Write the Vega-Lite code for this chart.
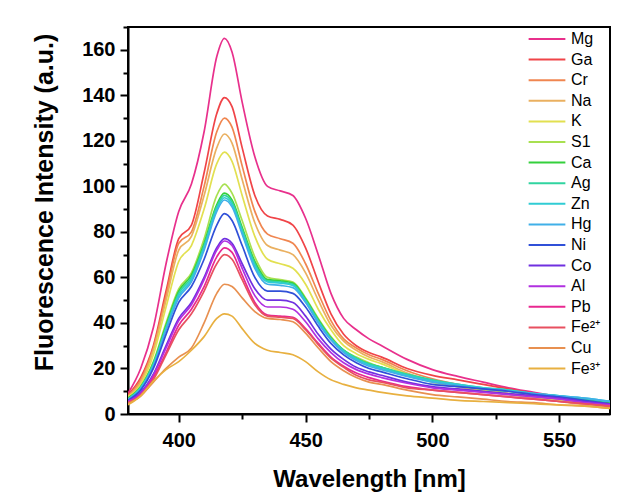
{
  "$schema": "https://vega.github.io/schema/vega-lite/v6.json",
  "width": 482,
  "height": 387,
  "autosize": {"type": "none"},
  "padding": {"left": 128, "top": 27, "right": 22, "bottom": 85},
  "background": "white",
  "config": {"font": "Liberation Sans", "view": {"stroke": "black", "strokeWidth": 2}},
  "datasets": {
    "spectra": [
      {"ion":"Mg","nm":380,"I":9},{"ion":"Mg","nm":385,"I":20},{"ion":"Mg","nm":390,"I":38},{"ion":"Mg","nm":395,"I":66},{"ion":"Mg","nm":400,"I":89},{"ion":"Mg","nm":405,"I":101},{"ion":"Mg","nm":410,"I":124},{"ion":"Mg","nm":415,"I":157},{"ion":"Mg","nm":418,"I":165},{"ion":"Mg","nm":421,"I":159},{"ion":"Mg","nm":425,"I":137},{"ion":"Mg","nm":430,"I":113},{"ion":"Mg","nm":435,"I":100},{"ion":"Mg","nm":440,"I":98},{"ion":"Mg","nm":445,"I":96},{"ion":"Mg","nm":450,"I":86},{"ion":"Mg","nm":455,"I":70},{"ion":"Mg","nm":460,"I":53},{"ion":"Mg","nm":465,"I":42},{"ion":"Mg","nm":470,"I":37},{"ion":"Mg","nm":475,"I":33},{"ion":"Mg","nm":480,"I":30},{"ion":"Mg","nm":490,"I":24},{"ion":"Mg","nm":500,"I":19.5},{"ion":"Mg","nm":510,"I":16.5},{"ion":"Mg","nm":520,"I":14},{"ion":"Mg","nm":530,"I":11.5},{"ion":"Mg","nm":540,"I":9.5},{"ion":"Mg","nm":550,"I":7.5},{"ion":"Mg","nm":560,"I":5.5},{"ion":"Mg","nm":570,"I":4},
      {"ion":"Ga","nm":380,"I":8.5},{"ion":"Ga","nm":385,"I":16},{"ion":"Ga","nm":390,"I":30},{"ion":"Ga","nm":395,"I":54},{"ion":"Ga","nm":400,"I":77},{"ion":"Ga","nm":405,"I":83},{"ion":"Ga","nm":410,"I":106},{"ion":"Ga","nm":415,"I":132},{"ion":"Ga","nm":418,"I":139},{"ion":"Ga","nm":421,"I":135},{"ion":"Ga","nm":425,"I":117},{"ion":"Ga","nm":430,"I":96},{"ion":"Ga","nm":435,"I":87},{"ion":"Ga","nm":440,"I":85.5},{"ion":"Ga","nm":445,"I":83},{"ion":"Ga","nm":450,"I":73},{"ion":"Ga","nm":455,"I":58},{"ion":"Ga","nm":460,"I":44},{"ion":"Ga","nm":465,"I":35},{"ion":"Ga","nm":470,"I":30},{"ion":"Ga","nm":475,"I":27},{"ion":"Ga","nm":480,"I":25},{"ion":"Ga","nm":490,"I":20},{"ion":"Ga","nm":500,"I":17},{"ion":"Ga","nm":510,"I":15},{"ion":"Ga","nm":520,"I":13},{"ion":"Ga","nm":530,"I":11},{"ion":"Ga","nm":540,"I":9},{"ion":"Ga","nm":550,"I":7},{"ion":"Ga","nm":560,"I":5},{"ion":"Ga","nm":570,"I":3.5},
      {"ion":"Cr","nm":380,"I":8},{"ion":"Cr","nm":385,"I":15},{"ion":"Cr","nm":390,"I":29},{"ion":"Cr","nm":395,"I":52},{"ion":"Cr","nm":400,"I":75},{"ion":"Cr","nm":405,"I":80},{"ion":"Cr","nm":410,"I":100},{"ion":"Cr","nm":415,"I":124},{"ion":"Cr","nm":418,"I":130},{"ion":"Cr","nm":421,"I":126},{"ion":"Cr","nm":425,"I":109},{"ion":"Cr","nm":430,"I":89},{"ion":"Cr","nm":435,"I":79},{"ion":"Cr","nm":440,"I":77},{"ion":"Cr","nm":445,"I":75},{"ion":"Cr","nm":450,"I":66},{"ion":"Cr","nm":455,"I":53},{"ion":"Cr","nm":460,"I":41},{"ion":"Cr","nm":465,"I":33},{"ion":"Cr","nm":470,"I":29},{"ion":"Cr","nm":475,"I":26},{"ion":"Cr","nm":480,"I":24},{"ion":"Cr","nm":490,"I":19},{"ion":"Cr","nm":500,"I":15.5},{"ion":"Cr","nm":510,"I":13},{"ion":"Cr","nm":520,"I":11},{"ion":"Cr","nm":530,"I":9},{"ion":"Cr","nm":540,"I":7.5},{"ion":"Cr","nm":550,"I":6},{"ion":"Cr","nm":560,"I":4.5},{"ion":"Cr","nm":570,"I":3},
      {"ion":"Na","nm":380,"I":7.5},{"ion":"Na","nm":385,"I":14},{"ion":"Na","nm":390,"I":28},{"ion":"Na","nm":395,"I":50},{"ion":"Na","nm":400,"I":72},{"ion":"Na","nm":405,"I":78},{"ion":"Na","nm":410,"I":96},{"ion":"Na","nm":415,"I":117},{"ion":"Na","nm":418,"I":123},{"ion":"Na","nm":421,"I":119},{"ion":"Na","nm":425,"I":103},{"ion":"Na","nm":430,"I":84},{"ion":"Na","nm":435,"I":74},{"ion":"Na","nm":440,"I":72},{"ion":"Na","nm":445,"I":70},{"ion":"Na","nm":450,"I":62},{"ion":"Na","nm":455,"I":50},{"ion":"Na","nm":460,"I":39},{"ion":"Na","nm":465,"I":32},{"ion":"Na","nm":470,"I":28},{"ion":"Na","nm":475,"I":25},{"ion":"Na","nm":480,"I":23},{"ion":"Na","nm":490,"I":18},{"ion":"Na","nm":500,"I":14.5},{"ion":"Na","nm":510,"I":12},{"ion":"Na","nm":520,"I":10},{"ion":"Na","nm":530,"I":8.5},{"ion":"Na","nm":540,"I":7},{"ion":"Na","nm":550,"I":5.5},{"ion":"Na","nm":560,"I":4},{"ion":"Na","nm":570,"I":3},
      {"ion":"K","nm":380,"I":7.5},{"ion":"K","nm":385,"I":13},{"ion":"K","nm":390,"I":26},{"ion":"K","nm":395,"I":47},{"ion":"K","nm":400,"I":67},{"ion":"K","nm":405,"I":74},{"ion":"K","nm":410,"I":90},{"ion":"K","nm":415,"I":110},{"ion":"K","nm":418,"I":115},{"ion":"K","nm":421,"I":111},{"ion":"K","nm":425,"I":96},{"ion":"K","nm":430,"I":78},{"ion":"K","nm":435,"I":68},{"ion":"K","nm":440,"I":66},{"ion":"K","nm":445,"I":64},{"ion":"K","nm":450,"I":57},{"ion":"K","nm":455,"I":46},{"ion":"K","nm":460,"I":37},{"ion":"K","nm":465,"I":30},{"ion":"K","nm":470,"I":26.5},{"ion":"K","nm":475,"I":24},{"ion":"K","nm":480,"I":22},{"ion":"K","nm":490,"I":17.5},{"ion":"K","nm":500,"I":14},{"ion":"K","nm":510,"I":12},{"ion":"K","nm":520,"I":10.5},{"ion":"K","nm":530,"I":9},{"ion":"K","nm":540,"I":7.5},{"ion":"K","nm":550,"I":6},{"ion":"K","nm":560,"I":5},{"ion":"K","nm":570,"I":3.5},
      {"ion":"S1","nm":380,"I":7},{"ion":"S1","nm":385,"I":12},{"ion":"S1","nm":390,"I":23},{"ion":"S1","nm":395,"I":40},{"ion":"S1","nm":400,"I":55},{"ion":"S1","nm":405,"I":62},{"ion":"S1","nm":410,"I":77},{"ion":"S1","nm":415,"I":96},{"ion":"S1","nm":418,"I":101},{"ion":"S1","nm":421,"I":97},{"ion":"S1","nm":425,"I":85},{"ion":"S1","nm":430,"I":69},{"ion":"S1","nm":435,"I":60},{"ion":"S1","nm":440,"I":59},{"ion":"S1","nm":445,"I":58},{"ion":"S1","nm":450,"I":51},{"ion":"S1","nm":455,"I":42},{"ion":"S1","nm":460,"I":34},{"ion":"S1","nm":465,"I":28},{"ion":"S1","nm":470,"I":25},{"ion":"S1","nm":475,"I":22.5},{"ion":"S1","nm":480,"I":20.5},{"ion":"S1","nm":490,"I":17},{"ion":"S1","nm":500,"I":14.5},{"ion":"S1","nm":510,"I":12.5},{"ion":"S1","nm":520,"I":11},{"ion":"S1","nm":530,"I":10},{"ion":"S1","nm":540,"I":8.5},{"ion":"S1","nm":550,"I":7.5},{"ion":"S1","nm":560,"I":6.5},{"ion":"S1","nm":570,"I":5},
      {"ion":"Ca","nm":380,"I":7},{"ion":"Ca","nm":385,"I":12},{"ion":"Ca","nm":390,"I":22.5},{"ion":"Ca","nm":395,"I":39},{"ion":"Ca","nm":400,"I":54},{"ion":"Ca","nm":405,"I":61},{"ion":"Ca","nm":410,"I":75},{"ion":"Ca","nm":415,"I":92},{"ion":"Ca","nm":418,"I":97},{"ion":"Ca","nm":421,"I":94},{"ion":"Ca","nm":425,"I":82},{"ion":"Ca","nm":430,"I":67},{"ion":"Ca","nm":435,"I":59},{"ion":"Ca","nm":440,"I":58.5},{"ion":"Ca","nm":445,"I":57.5},{"ion":"Ca","nm":450,"I":50.5},{"ion":"Ca","nm":455,"I":41.5},{"ion":"Ca","nm":460,"I":33.5},{"ion":"Ca","nm":465,"I":28},{"ion":"Ca","nm":470,"I":24.5},{"ion":"Ca","nm":475,"I":22},{"ion":"Ca","nm":480,"I":20.5},{"ion":"Ca","nm":490,"I":17},{"ion":"Ca","nm":500,"I":14.5},{"ion":"Ca","nm":510,"I":12.5},{"ion":"Ca","nm":520,"I":11},{"ion":"Ca","nm":530,"I":10},{"ion":"Ca","nm":540,"I":8.5},{"ion":"Ca","nm":550,"I":7.5},{"ion":"Ca","nm":560,"I":6.5},{"ion":"Ca","nm":570,"I":5},
      {"ion":"Ag","nm":380,"I":6.5},{"ion":"Ag","nm":385,"I":11.5},{"ion":"Ag","nm":390,"I":22},{"ion":"Ag","nm":395,"I":38},{"ion":"Ag","nm":400,"I":53},{"ion":"Ag","nm":405,"I":60},{"ion":"Ag","nm":410,"I":74},{"ion":"Ag","nm":415,"I":91},{"ion":"Ag","nm":418,"I":96},{"ion":"Ag","nm":421,"I":93},{"ion":"Ag","nm":425,"I":81},{"ion":"Ag","nm":430,"I":66},{"ion":"Ag","nm":435,"I":58.5},{"ion":"Ag","nm":440,"I":58},{"ion":"Ag","nm":445,"I":57},{"ion":"Ag","nm":450,"I":50},{"ion":"Ag","nm":455,"I":41},{"ion":"Ag","nm":460,"I":33},{"ion":"Ag","nm":465,"I":28},{"ion":"Ag","nm":470,"I":24.5},{"ion":"Ag","nm":475,"I":22},{"ion":"Ag","nm":480,"I":20.5},{"ion":"Ag","nm":490,"I":17.5},{"ion":"Ag","nm":500,"I":15},{"ion":"Ag","nm":510,"I":13},{"ion":"Ag","nm":520,"I":11.5},{"ion":"Ag","nm":530,"I":10.5},{"ion":"Ag","nm":540,"I":9},{"ion":"Ag","nm":550,"I":8},{"ion":"Ag","nm":560,"I":6.5},{"ion":"Ag","nm":570,"I":5.5},
      {"ion":"Zn","nm":380,"I":6.5},{"ion":"Zn","nm":385,"I":11.5},{"ion":"Zn","nm":390,"I":21.5},{"ion":"Zn","nm":395,"I":37.5},{"ion":"Zn","nm":400,"I":52},{"ion":"Zn","nm":405,"I":59},{"ion":"Zn","nm":410,"I":73},{"ion":"Zn","nm":415,"I":90},{"ion":"Zn","nm":418,"I":95},{"ion":"Zn","nm":421,"I":92},{"ion":"Zn","nm":425,"I":80},{"ion":"Zn","nm":430,"I":65},{"ion":"Zn","nm":435,"I":58},{"ion":"Zn","nm":440,"I":57.5},{"ion":"Zn","nm":445,"I":56.5},{"ion":"Zn","nm":450,"I":49.5},{"ion":"Zn","nm":455,"I":40.5},{"ion":"Zn","nm":460,"I":33},{"ion":"Zn","nm":465,"I":27.5},{"ion":"Zn","nm":470,"I":24},{"ion":"Zn","nm":475,"I":21.5},{"ion":"Zn","nm":480,"I":20},{"ion":"Zn","nm":490,"I":17},{"ion":"Zn","nm":500,"I":14.5},{"ion":"Zn","nm":510,"I":13},{"ion":"Zn","nm":520,"I":11.5},{"ion":"Zn","nm":530,"I":10.5},{"ion":"Zn","nm":540,"I":9},{"ion":"Zn","nm":550,"I":8},{"ion":"Zn","nm":560,"I":7},{"ion":"Zn","nm":570,"I":5.5},
      {"ion":"Hg","nm":380,"I":6.5},{"ion":"Hg","nm":385,"I":11},{"ion":"Hg","nm":390,"I":21},{"ion":"Hg","nm":395,"I":37},{"ion":"Hg","nm":400,"I":51},{"ion":"Hg","nm":405,"I":58},{"ion":"Hg","nm":410,"I":72},{"ion":"Hg","nm":415,"I":89},{"ion":"Hg","nm":418,"I":94},{"ion":"Hg","nm":421,"I":91},{"ion":"Hg","nm":425,"I":79},{"ion":"Hg","nm":430,"I":64},{"ion":"Hg","nm":435,"I":57},{"ion":"Hg","nm":440,"I":56.5},{"ion":"Hg","nm":445,"I":55.5},{"ion":"Hg","nm":450,"I":49},{"ion":"Hg","nm":455,"I":40},{"ion":"Hg","nm":460,"I":32.5},{"ion":"Hg","nm":465,"I":27},{"ion":"Hg","nm":470,"I":23.5},{"ion":"Hg","nm":475,"I":21},{"ion":"Hg","nm":480,"I":19.5},{"ion":"Hg","nm":490,"I":16.5},{"ion":"Hg","nm":500,"I":14},{"ion":"Hg","nm":510,"I":12.5},{"ion":"Hg","nm":520,"I":11},{"ion":"Hg","nm":530,"I":10},{"ion":"Hg","nm":540,"I":9},{"ion":"Hg","nm":550,"I":8},{"ion":"Hg","nm":560,"I":7},{"ion":"Hg","nm":570,"I":5.5},
      {"ion":"Ni","nm":380,"I":6},{"ion":"Ni","nm":385,"I":10.5},{"ion":"Ni","nm":390,"I":20},{"ion":"Ni","nm":395,"I":35},{"ion":"Ni","nm":400,"I":49},{"ion":"Ni","nm":405,"I":56},{"ion":"Ni","nm":410,"I":68},{"ion":"Ni","nm":415,"I":83},{"ion":"Ni","nm":418,"I":88},{"ion":"Ni","nm":421,"I":85},{"ion":"Ni","nm":425,"I":74},{"ion":"Ni","nm":430,"I":60},{"ion":"Ni","nm":435,"I":54},{"ion":"Ni","nm":440,"I":54},{"ion":"Ni","nm":445,"I":53},{"ion":"Ni","nm":450,"I":47},{"ion":"Ni","nm":455,"I":38.5},{"ion":"Ni","nm":460,"I":31},{"ion":"Ni","nm":465,"I":26},{"ion":"Ni","nm":470,"I":22.5},{"ion":"Ni","nm":475,"I":20},{"ion":"Ni","nm":480,"I":18.5},{"ion":"Ni","nm":490,"I":15.5},{"ion":"Ni","nm":500,"I":13},{"ion":"Ni","nm":510,"I":12},{"ion":"Ni","nm":520,"I":11},{"ion":"Ni","nm":530,"I":10},{"ion":"Ni","nm":540,"I":8.5},{"ion":"Ni","nm":550,"I":7.5},{"ion":"Ni","nm":560,"I":6},{"ion":"Ni","nm":570,"I":4.5},
      {"ion":"Co","nm":380,"I":5.5},{"ion":"Co","nm":385,"I":9.5},{"ion":"Co","nm":390,"I":17.5},{"ion":"Co","nm":395,"I":30},{"ion":"Co","nm":400,"I":42},{"ion":"Co","nm":405,"I":49},{"ion":"Co","nm":410,"I":60},{"ion":"Co","nm":415,"I":73},{"ion":"Co","nm":418,"I":77},{"ion":"Co","nm":421,"I":75},{"ion":"Co","nm":425,"I":66},{"ion":"Co","nm":430,"I":55},{"ion":"Co","nm":435,"I":50},{"ion":"Co","nm":440,"I":50},{"ion":"Co","nm":445,"I":49},{"ion":"Co","nm":450,"I":43},{"ion":"Co","nm":455,"I":35},{"ion":"Co","nm":460,"I":28.5},{"ion":"Co","nm":465,"I":24},{"ion":"Co","nm":470,"I":20.5},{"ion":"Co","nm":475,"I":18.5},{"ion":"Co","nm":480,"I":17},{"ion":"Co","nm":490,"I":14},{"ion":"Co","nm":500,"I":12},{"ion":"Co","nm":510,"I":11},{"ion":"Co","nm":520,"I":10},{"ion":"Co","nm":530,"I":9},{"ion":"Co","nm":540,"I":8},{"ion":"Co","nm":550,"I":7},{"ion":"Co","nm":560,"I":5.5},{"ion":"Co","nm":570,"I":4.5},
      {"ion":"Al","nm":380,"I":5.5},{"ion":"Al","nm":385,"I":9},{"ion":"Al","nm":390,"I":17},{"ion":"Al","nm":395,"I":29},{"ion":"Al","nm":400,"I":41},{"ion":"Al","nm":405,"I":48},{"ion":"Al","nm":410,"I":59},{"ion":"Al","nm":415,"I":72},{"ion":"Al","nm":418,"I":76},{"ion":"Al","nm":421,"I":74},{"ion":"Al","nm":425,"I":64},{"ion":"Al","nm":430,"I":52},{"ion":"Al","nm":435,"I":47},{"ion":"Al","nm":440,"I":47},{"ion":"Al","nm":445,"I":46},{"ion":"Al","nm":450,"I":40.5},{"ion":"Al","nm":455,"I":33},{"ion":"Al","nm":460,"I":27},{"ion":"Al","nm":465,"I":22.5},{"ion":"Al","nm":470,"I":19.5},{"ion":"Al","nm":475,"I":17.5},{"ion":"Al","nm":480,"I":16},{"ion":"Al","nm":490,"I":13.5},{"ion":"Al","nm":500,"I":11.5},{"ion":"Al","nm":510,"I":10.5},{"ion":"Al","nm":520,"I":9.5},{"ion":"Al","nm":530,"I":8.5},{"ion":"Al","nm":540,"I":7.5},{"ion":"Al","nm":550,"I":6.5},{"ion":"Al","nm":560,"I":5},{"ion":"Al","nm":570,"I":4},
      {"ion":"Pb","nm":380,"I":5},{"ion":"Pb","nm":385,"I":8.5},{"ion":"Pb","nm":390,"I":16},{"ion":"Pb","nm":395,"I":27},{"ion":"Pb","nm":400,"I":39},{"ion":"Pb","nm":405,"I":46},{"ion":"Pb","nm":410,"I":56},{"ion":"Pb","nm":415,"I":69},{"ion":"Pb","nm":418,"I":73},{"ion":"Pb","nm":421,"I":71},{"ion":"Pb","nm":425,"I":61},{"ion":"Pb","nm":430,"I":49},{"ion":"Pb","nm":435,"I":43.5},{"ion":"Pb","nm":440,"I":43},{"ion":"Pb","nm":445,"I":42.5},{"ion":"Pb","nm":450,"I":37.5},{"ion":"Pb","nm":455,"I":31},{"ion":"Pb","nm":460,"I":25},{"ion":"Pb","nm":465,"I":21},{"ion":"Pb","nm":470,"I":18},{"ion":"Pb","nm":475,"I":16},{"ion":"Pb","nm":480,"I":14.5},{"ion":"Pb","nm":490,"I":12},{"ion":"Pb","nm":500,"I":10.5},{"ion":"Pb","nm":510,"I":9.5},{"ion":"Pb","nm":520,"I":8.5},{"ion":"Pb","nm":530,"I":7.5},{"ion":"Pb","nm":540,"I":6.5},{"ion":"Pb","nm":550,"I":5.5},{"ion":"Pb","nm":560,"I":4.5},{"ion":"Pb","nm":570,"I":3.5},
      {"ion":"Fe²⁺","nm":380,"I":5},{"ion":"Fe²⁺","nm":385,"I":8},{"ion":"Fe²⁺","nm":390,"I":15},{"ion":"Fe²⁺","nm":395,"I":26},{"ion":"Fe²⁺","nm":400,"I":37},{"ion":"Fe²⁺","nm":405,"I":44},{"ion":"Fe²⁺","nm":410,"I":54},{"ion":"Fe²⁺","nm":415,"I":66},{"ion":"Fe²⁺","nm":418,"I":70},{"ion":"Fe²⁺","nm":421,"I":68},{"ion":"Fe²⁺","nm":425,"I":59},{"ion":"Fe²⁺","nm":430,"I":48},{"ion":"Fe²⁺","nm":435,"I":43},{"ion":"Fe²⁺","nm":440,"I":42.5},{"ion":"Fe²⁺","nm":445,"I":42},{"ion":"Fe²⁺","nm":450,"I":37},{"ion":"Fe²⁺","nm":455,"I":30.5},{"ion":"Fe²⁺","nm":460,"I":24.5},{"ion":"Fe²⁺","nm":465,"I":20.5},{"ion":"Fe²⁺","nm":470,"I":17},{"ion":"Fe²⁺","nm":475,"I":15},{"ion":"Fe²⁺","nm":480,"I":14},{"ion":"Fe²⁺","nm":490,"I":11.5},{"ion":"Fe²⁺","nm":500,"I":10.5},{"ion":"Fe²⁺","nm":510,"I":9.5},{"ion":"Fe²⁺","nm":520,"I":8.5},{"ion":"Fe²⁺","nm":530,"I":7.5},{"ion":"Fe²⁺","nm":540,"I":6.5},{"ion":"Fe²⁺","nm":550,"I":5.5},{"ion":"Fe²⁺","nm":560,"I":4.5},{"ion":"Fe²⁺","nm":570,"I":3.5},
      {"ion":"Cu","nm":380,"I":4.5},{"ion":"Cu","nm":385,"I":8},{"ion":"Cu","nm":390,"I":14},{"ion":"Cu","nm":395,"I":20},{"ion":"Cu","nm":400,"I":25},{"ion":"Cu","nm":405,"I":29},{"ion":"Cu","nm":410,"I":40},{"ion":"Cu","nm":415,"I":53},{"ion":"Cu","nm":418,"I":57},{"ion":"Cu","nm":421,"I":56},{"ion":"Cu","nm":425,"I":51},{"ion":"Cu","nm":430,"I":45},{"ion":"Cu","nm":435,"I":42},{"ion":"Cu","nm":440,"I":41.5},{"ion":"Cu","nm":445,"I":40.5},{"ion":"Cu","nm":450,"I":35.5},{"ion":"Cu","nm":455,"I":29},{"ion":"Cu","nm":460,"I":23},{"ion":"Cu","nm":465,"I":19},{"ion":"Cu","nm":470,"I":16},{"ion":"Cu","nm":475,"I":14},{"ion":"Cu","nm":480,"I":13},{"ion":"Cu","nm":490,"I":10.5},{"ion":"Cu","nm":500,"I":8.5},{"ion":"Cu","nm":510,"I":7.5},{"ion":"Cu","nm":520,"I":6.5},{"ion":"Cu","nm":530,"I":5.5},{"ion":"Cu","nm":540,"I":5},{"ion":"Cu","nm":550,"I":4},{"ion":"Cu","nm":560,"I":3.5},{"ion":"Cu","nm":570,"I":2.5},
      {"ion":"Fe³⁺","nm":380,"I":4},{"ion":"Fe³⁺","nm":385,"I":8},{"ion":"Fe³⁺","nm":390,"I":14.5},{"ion":"Fe³⁺","nm":395,"I":19.5},{"ion":"Fe³⁺","nm":400,"I":23},{"ion":"Fe³⁺","nm":405,"I":28},{"ion":"Fe³⁺","nm":410,"I":34},{"ion":"Fe³⁺","nm":415,"I":42},{"ion":"Fe³⁺","nm":418,"I":44},{"ion":"Fe³⁺","nm":421,"I":43},{"ion":"Fe³⁺","nm":425,"I":37.5},{"ion":"Fe³⁺","nm":430,"I":31},{"ion":"Fe³⁺","nm":435,"I":28},{"ion":"Fe³⁺","nm":440,"I":27},{"ion":"Fe³⁺","nm":445,"I":26},{"ion":"Fe³⁺","nm":450,"I":23},{"ion":"Fe³⁺","nm":455,"I":18.5},{"ion":"Fe³⁺","nm":460,"I":15},{"ion":"Fe³⁺","nm":465,"I":13},{"ion":"Fe³⁺","nm":470,"I":11.5},{"ion":"Fe³⁺","nm":475,"I":10.5},{"ion":"Fe³⁺","nm":480,"I":9.5},{"ion":"Fe³⁺","nm":490,"I":8},{"ion":"Fe³⁺","nm":500,"I":7},{"ion":"Fe³⁺","nm":510,"I":6},{"ion":"Fe³⁺","nm":520,"I":5.5},{"ion":"Fe³⁺","nm":530,"I":5},{"ion":"Fe³⁺","nm":540,"I":4.5},{"ion":"Fe³⁺","nm":550,"I":4},{"ion":"Fe³⁺","nm":560,"I":3.5},{"ion":"Fe³⁺","nm":570,"I":2.5}
    ]
  },
  "data": {"name": "spectra"},
  "mark": {"type": "line", "interpolate": "monotone", "strokeWidth": 1.7, "clip": true},
  "encoding": {
    "x": {
      "field": "nm",
      "type": "quantitative",
      "scale": {"domain": [380, 570], "nice": false, "zero": false},
      "axis": {
        "title": "Wavelength [nm]",
        "values": [400, 425, 450, 475, 500, 525, 550],
        "labelExpr": "datum.value % 50 === 0 ? datum.label : ''",
        "tickSize": {"condition": {"test": "datum.value % 50 === 0", "value": 8}, "value": 5},
        "grid": false,
        "domainColor": "black",
        "domainWidth": 2,
        "tickColor": "black",
        "tickWidth": 2,
        "labelFontSize": 20,
        "labelFontWeight": "bold",
        "labelColor": "black",
        "labelPadding": 8,
        "labelFlush": false,
        "titleFontSize": 24,
        "titleFontWeight": "bold",
        "titleColor": "black",
        "titleY": 72,
        "titleBaseline": "alphabetic"
      }
    },
    "y": {
      "field": "I",
      "type": "quantitative",
      "scale": {"domain": [0, 170], "nice": false},
      "axis": {
        "title": "Fluorescence Intensity (a.u.)",
        "values": [0, 10, 20, 30, 40, 50, 60, 70, 80, 90, 100, 110, 120, 130, 140, 150, 160, 170],
        "labelExpr": "datum.value % 20 === 0 ? datum.label : ''",
        "tickSize": {"condition": {"test": "datum.value % 20 === 0", "value": 8}, "value": 5},
        "grid": false,
        "domainColor": "black",
        "domainWidth": 2,
        "tickColor": "black",
        "tickWidth": 2,
        "labelFontSize": 20,
        "labelFontWeight": "bold",
        "labelColor": "black",
        "labelPadding": 5,
        "labelFlush": false,
        "titleFontSize": 25,
        "titleFontWeight": "bold",
        "titleColor": "black",
        "titleX": -76,
        "titleY": 175,
        "titleBaseline": "alphabetic",
        "titleAlign": "center"
      }
    },
    "color": {
      "field": "ion",
      "type": "nominal",
      "scale": {
        "domain": ["Mg", "Ga", "Cr", "Na", "K", "S1", "Ca", "Ag", "Zn", "Hg", "Ni", "Co", "Al", "Pb", "Fe²⁺", "Cu", "Fe³⁺"],
        "range": ["#e8308c", "#f04448", "#f08650", "#eab060", "#e2e050", "#a8e050", "#34d03c", "#30d4a0", "#30ccd4", "#40b0e8", "#3050d8", "#7030e0", "#b030e0", "#e82890", "#e85060", "#e89050", "#e8b040"]
      },
      "legend": {
        "title": null,
        "orient": "none",
        "legendX": 411,
        "legendY": 4,
        "padding": 0,
        "symbolType": "M-3,0H3",
        "symbolSize": 150,
        "symbolStrokeWidth": 2,
        "labelOffset": 16,
        "labelFontSize": 16,
        "labelColor": "black",
        "rowPadding": 4.6,
        "fillColor": null,
        "strokeColor": null
      }
    }
  }
}
